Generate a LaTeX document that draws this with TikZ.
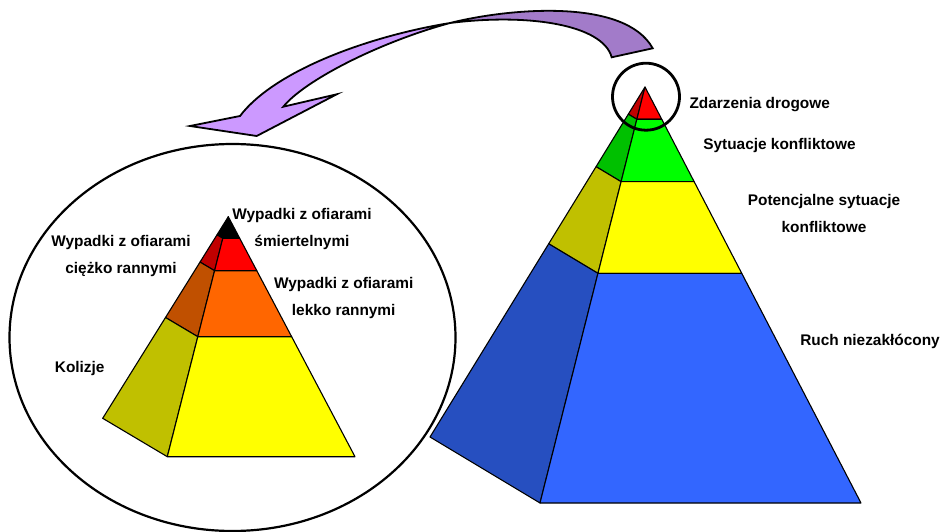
\documentclass[tikz,border=0pt]{standalone}
\usepackage{fontspec}
\setmainfont{Liberation Sans}
\usetikzlibrary{calc}
\definecolor{redF}{HTML}{FF0000}
\definecolor{redS}{HTML}{C00000}
\definecolor{greenF}{HTML}{00FF00}
\definecolor{greenS}{HTML}{00C000}
\definecolor{yelF}{HTML}{FFFF00}
\definecolor{yelS}{HTML}{C0C000}
\definecolor{blueF}{HTML}{3366FF}
\definecolor{blueS}{HTML}{264FC0}
\definecolor{oraF}{HTML}{FF6600}
\definecolor{oraS}{HTML}{C05000}
\definecolor{arrowLight}{HTML}{CC99FF}
\definecolor{arrowDark}{HTML}{A27BC9}
\newcommand\myband[8]{%
  \path[face,fill=#8] ($(#1)!#5!(#4)$) -- ($(#1)!#5!(#2)$) -- ($(#1)!#6!(#2)$) -- ($(#1)!#6!(#4)$) -- cycle;
  \path[face,fill=#7] ($(#1)!#5!(#2)$) -- ($(#1)!#5!(#3)$) -- ($(#1)!#6!(#3)$) -- ($(#1)!#6!(#2)$) -- cycle;
}
\begin{document}
\begin{tikzpicture}[x=1pt,y=-1pt,
  face/.style={draw=black,line width=1.1pt,line join=round},
  lbl/.style={font=\bfseries\fontsize{15.4}{27}\selectfont,align=center,inner sep=0pt},
  arrowshape/.style={draw=black,line width=1.8pt,line join=miter}]
\useasboundingbox (0,0) rectangle (943,532);

% curved arrow
\coordinate (tw) at (450,23);
\coordinate (tailA) at (652.7,48.3);
\coordinate (tailB) at (611.7,57.3);
\coordinate (hjoin) at (240,116);
\coordinate (htip) at (190,126);
\coordinate (hbot) at (256.7,136);
\coordinate (hbarb) at (336.7,94.3);
\coordinate (hnotch) at (283.3,106.7);
\path[arrowshape,fill=arrowDark] (tw) .. controls (510,8) and (625,-2) .. (tailA)
  -- (tailB) .. controls (603,25) and (530,13) .. (tw) -- cycle;
\path[arrowshape,fill=arrowLight] (tw) .. controls (370,36) and (275,70) .. (hjoin)
  -- (htip) -- (hbot) -- (hbarb) -- (hnotch)
  .. controls (305,80) and (380,42) .. (tw) -- cycle;

% ellipse
\draw[line width=2.2pt] (232.5,337.5) ellipse [x radius=223, y radius=193.5];

% small pyramid
\coordinate (A2) at (228.3,216.7);
\coordinate (F2) at (167.3,456.7);
\coordinate (R2) at (355,456.7);
\coordinate (L2) at (102.7,418.3);
\myband{A2}{F2}{R2}{L2}{0}{0.09}{black}{black}
\myband{A2}{F2}{R2}{L2}{0.09}{0.225}{redF}{redS}
\myband{A2}{F2}{R2}{L2}{0.225}{0.5}{oraF}{oraS}
\myband{A2}{F2}{R2}{L2}{0.5}{1}{yelF}{yelS}

% big pyramid
\coordinate (A) at (645,87);
\coordinate (F) at (540,503);
\coordinate (R) at (861,503);
\coordinate (L) at (430,437);
\myband{A}{F}{R}{L}{0}{0.0776}{redF}{redS}
\myband{A}{F}{R}{L}{0.0776}{0.2276}{greenF}{greenS}
\myband{A}{F}{R}{L}{0.2276}{0.448}{yelF}{yelS}
\myband{A}{F}{R}{L}{0.448}{1}{blueF}{blueS}

% circle around top
\draw[line width=2.8pt] (646,96.7) circle [radius=33.5];

% labels
\node[lbl,anchor=base] (zd) at (759.7,108.3) {Zdarzenia drogowe};
\node[lbl,anchor=base] (syt) at (779.5,150) {Sytuacje konfliktowe};
\node[lbl,anchor=north] (pot) at (824,193.9) {Potencjalne sytuacje\\konfliktowe};
\node[lbl,anchor=base] (ruch) at (870,345) {Ruch niezakłócony};
\node[lbl,anchor=north] (smier) at (302,207.9) {Wypadki z ofiarami\\śmiertelnymi};
\node[lbl,anchor=north] (ciez) at (121,235.6) {Wypadki z ofiarami\\ciężko rannymi};
\node[lbl,anchor=north] (lekk) at (343.7,277.2) {Wypadki z ofiarami\\lekko rannymi};
\node[lbl,anchor=base] (kol) at (79.7,372.3) {Kolizje};
\end{tikzpicture}
\end{document}
